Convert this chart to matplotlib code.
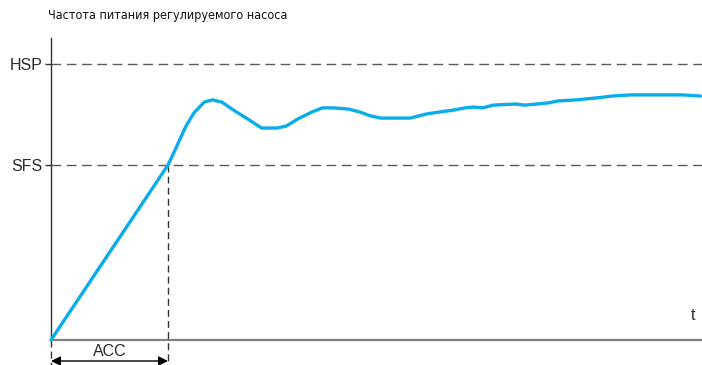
import matplotlib
matplotlib.use("Agg")
import matplotlib.pyplot as plt
import numpy as np

# Data (t in arbitrary seconds, ACC = 10; frequency in % of HSP)
title = "Частота питания регулируемого насоса"
level_labels = ["HSP", "SFS"]
level_values = [100.0, 63.4]
acc_time = 10.0
t_values = [0.0, 10.0, 10.6, 11.5, 12.2, 13.1, 13.8, 14.6, 15.6, 16.8, 18.0, 19.3, 20.1,
            21.1, 22.3, 23.2, 24.1, 25.4, 26.4, 27.3, 28.2, 30.7, 32.1, 33.2, 34.4,
            35.4, 36.1, 36.9, 37.8, 39.7, 40.5, 42.5, 43.3, 44.9, 46.6, 48.0, 49.5,
            51.2, 52.9, 54.0, 55.5]
f_values = [0.0, 63.4, 68.8, 77.2, 82.2, 86.2, 87.0, 86.2, 83.3, 80.1, 76.8, 76.8, 77.5,
            80.1, 82.6, 84.1, 84.1, 83.7, 82.6, 81.2, 80.4, 80.4, 81.9, 82.6, 83.3,
            84.1, 84.4, 84.1, 85.1, 85.5, 85.1, 85.9, 86.6, 87.0, 87.7, 88.4, 88.8,
            88.8, 88.8, 88.8, 88.4]

fig = plt.figure(figsize=(7.02, 3.65), dpi=100)
ax = fig.add_axes([51/702, 1-340/365, 1-51/702, (340-38)/365])
xmax = (702-51)/11.7
ymax = (340-38)/276*100
ax.set_xlim(0, xmax)
ax.set_ylim(0, ymax)

for s in ["top", "right"]:
    ax.spines[s].set_visible(False)
ax.spines["left"].set_color("#333333")
ax.spines["left"].set_linewidth(1.0)
ax.spines["bottom"].set_color("#808080")
ax.spines["bottom"].set_linewidth(1.6)

dash_col = "#5a5a5a"
for v in level_values:
    ax.axhline(v, color=dash_col, lw=1.0, ls=(0, (7, 4)), zorder=1)
ax.set_yticks(level_values)
ax.set_yticklabels(level_labels, fontsize=11.5, family="Liberation Sans", color="#2a2a2a")
ax.tick_params(axis="y", length=4, width=1.0, color="#333333", pad=2)
ax.set_xticks([])

# vertical dashed lines (ACC and origin)
sfs = level_values[1]
ax.plot([acc_time, acc_time], [sfs, -25/276*100], color="#333333", lw=1.0,
        ls=(0, (5, 3)), clip_on=False, zorder=1)
ax.plot([0, 0], [0, -25/276*100], color="#333333", lw=1.0,
        ls=(0, (5, 3)), clip_on=False, zorder=1)

ax.plot(t_values, f_values, color="#0AADEB", lw=2.4, solid_capstyle="round",
        solid_joinstyle="round", zorder=3, clip_on=False)

# ACC arrow
ya = -21/276*100
ax.annotate("", xy=(0, ya), xytext=(acc_time, ya), xycoords="data",
            arrowprops=dict(arrowstyle="<|-|>", color="black", lw=1.0,
                            mutation_scale=14, shrinkA=0, shrinkB=0),
            annotation_clip=False)
ax.text(acc_time/2, -12/276*100, "ACC", ha="center", va="center", fontsize=11.5,
        family="Liberation Sans", color="#2a2a2a", clip_on=False)

ax.text((693-51)/11.7, (340-315)/276*100, "t", ha="center", va="center", fontsize=11.5,
        family="Liberation Sans", color="#2a2a2a")

fig.text(48/702, 1-15/365, title, ha="left", va="center", fontsize=9.0,
         family="DejaVu Sans", fontstretch="condensed", color="#111111")

fig.savefig("out.png", dpi=100)
